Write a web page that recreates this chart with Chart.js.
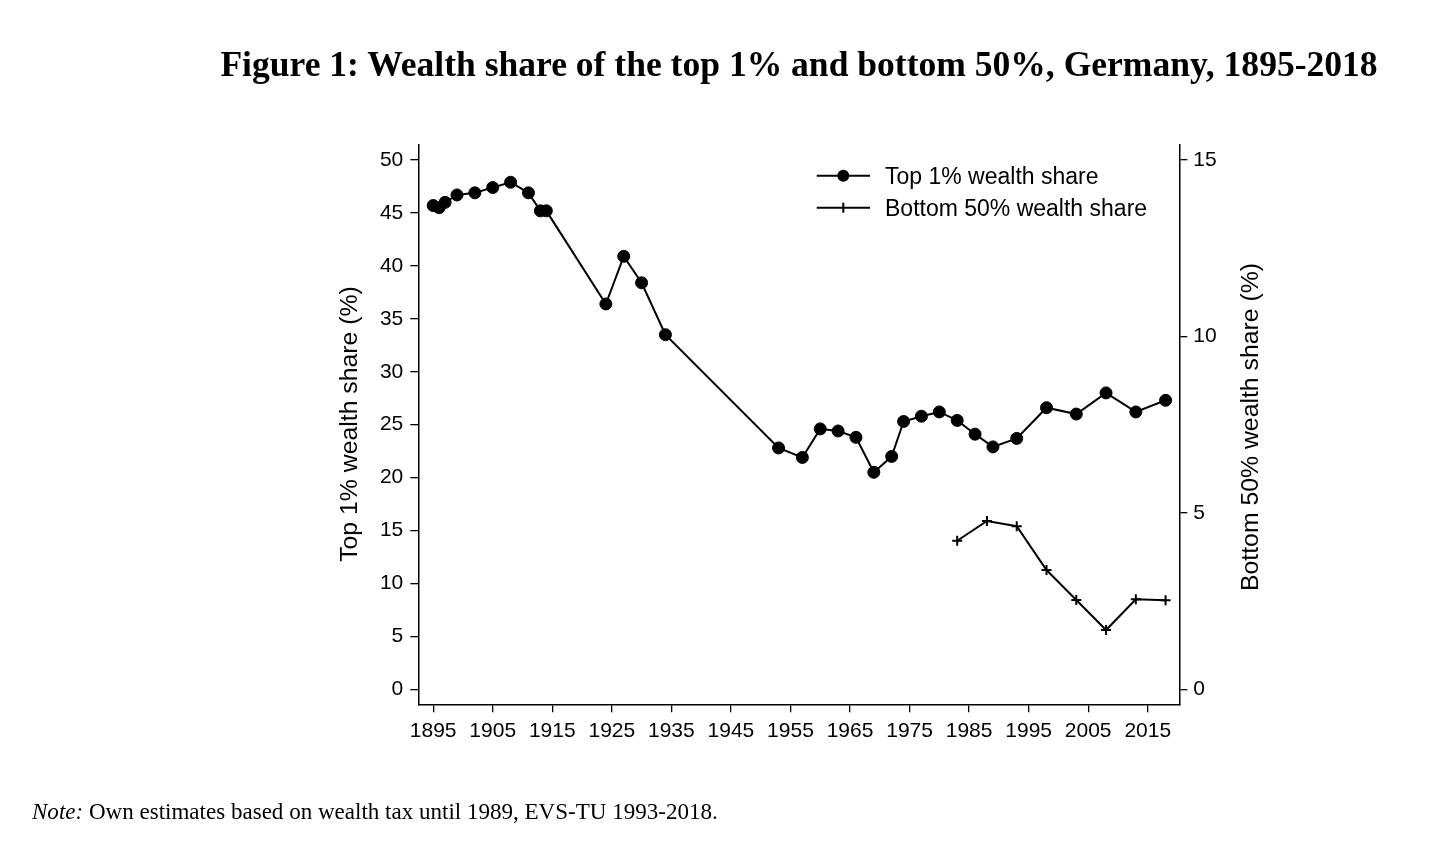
<!DOCTYPE html>
<html>
<head>
<meta charset="utf-8">
<script src="https://cdn.jsdelivr.net/npm/chart.js@4.4.1/dist/chart.umd.min.js"></script>
<style>
  html, body { margin: 0; padding: 0; background: #fff; }
  body { width: 1456px; height: 857px; position: relative; overflow: hidden;
         font-family: "Liberation Sans", Arial, sans-serif; color: #000; }
  #chart { position: absolute; left: 0; top: 0; }
  .txt { position: absolute; white-space: nowrap; }
  #title { font-family: "Liberation Serif", "DejaVu Serif", serif; font-weight: bold;
           font-size: 34px; line-height: 40px; top: 44px; left: 220px; }
  #note { font-family: "Liberation Serif", "DejaVu Serif", serif; font-size: 20px;
          line-height: 24px; left: 32px; top: 799px; }
  .axtitle { font-size: 24.8px; line-height: 30px; width: 400px; text-align: center;
             transform: rotate(-90deg); }
  .leg { font-size: 23px; line-height: 28px; left: 885px; }
  #legsvg { position: absolute; left: 810px; top: 160px; }
</style>
</head>
<body>
<canvas id="chart" width="1456" height="857"></canvas>

<div id="title" class="txt">Figure 1: Wealth share of the top 1% and bottom 50%, Germany, 1895-2018</div>
<div class="txt axtitle" style="left:148.5px; top:408.5px">Top 1% wealth share (%)</div>
<div class="txt axtitle" style="left:1050px; top:411.5px">Bottom 50% wealth share (%)</div>

<svg id="legsvg" width="70" height="60">
  <line x1="6.7" y1="15.7" x2="60" y2="15.7" stroke="#000" stroke-width="2"/>
  <circle cx="33.3" cy="15.7" r="6" fill="#000"/>
  <line x1="6.7" y1="47.7" x2="60" y2="47.7" stroke="#000" stroke-width="2"/>
  <line x1="33.3" y1="42.7" x2="33.3" y2="52.7" stroke="#000" stroke-width="2"/>
</svg>
<div class="txt leg" style="top:161.5px">Top 1% wealth share</div>
<div class="txt leg" style="top:193.7px">Bottom 50% wealth share</div>

<div id="note" class="txt"><i>Note:</i> Own estimates based on wealth tax until 1989, EVS-TU 1993-2018.</div>

<script>
// tick labels
const xTicks = [1895, 1905, 1915, 1925, 1935, 1945, 1955, 1965, 1975, 1985, 1995, 2005, 2015];
const leftTicks = [0, 5, 10, 15, 20, 25, 30, 35, 40, 45, 50];
const rightTicks = [0, 5, 10, 15];

// top 1% wealth share (left axis)
const topYears = [1895, 1896, 1897, 1899, 1902, 1905, 1908, 1911, 1913, 1914,
                  1924, 1927, 1930, 1934, 1953, 1957, 1960, 1963, 1966, 1969,
                  1972, 1974, 1977, 1980, 1983, 1986, 1989, 1993, 1998, 2003,
                  2008, 2013, 2018];
const topShare = [45.7, 45.5, 46.0, 46.7, 46.9, 47.4, 47.9, 46.9, 45.2, 45.2,
                  36.4, 40.9, 38.4, 33.5, 22.8, 21.9, 24.6, 24.4, 23.8, 20.5,
                  22.0, 25.3, 25.8, 26.2, 25.4, 24.1, 22.9, 23.7, 26.6, 26.0,
                  28.0, 26.2, 27.3];

// bottom 50% wealth share (right axis)
const bottomYears = [1983, 1988, 1993, 1998, 2003, 2008, 2013, 2018];
const bottomShare = [4.21, 4.77, 4.62, 3.38, 2.53, 1.68, 2.55, 2.52];

// plot frame in page pixels
const areaLeft = 418.3, areaRight = 1179.3, areaTop = 145, areaBottom = 704.3;
const W = 1456, H = 857;

const tickFont = { family: '"Liberation Sans", Arial, sans-serif', size: 21 };

function axisStyle() {
    return {
        grid: { drawOnChartArea: false, drawTicks: true, tickLength: 8, color: '#000', lineWidth: 1.3 },
        border: { display: true, color: '#000', width: 1.5 }
    };
}

// fit serif texts to the width they have in the figure
function fitWidth(el, target) {
    const size = parseFloat(getComputedStyle(el).fontSize);
    const w = el.getBoundingClientRect().width;
    el.style.fontSize = (size * target / w) + 'px';
}
const titleEl = document.getElementById('title');
fitWidth(titleEl, 1158);
titleEl.style.left = (799 - titleEl.getBoundingClientRect().width / 2) + 'px';
fitWidth(document.getElementById('note'), 686);

const ctx = document.getElementById('chart').getContext('2d');
new Chart(ctx, {
    type: 'line',
    data: {
        datasets: [
            {
                label: 'Top 1% wealth share',
                data: topYears.map((yr, i) => ({ x: yr, y: topShare[i] })),
                yAxisID: 'y',
                borderColor: '#000',
                backgroundColor: '#000',
                borderWidth: 2,
                tension: 0,
                pointStyle: 'circle',
                pointRadius: 6,
                pointBorderWidth: 1,
                pointBackgroundColor: '#000',
                pointBorderColor: '#000',
                clip: false
            },
            {
                label: 'Bottom 50% wealth share',
                data: bottomYears.map((yr, i) => ({ x: yr, y: bottomShare[i] })),
                yAxisID: 'y1',
                borderColor: '#000',
                backgroundColor: '#000',
                borderWidth: 2,
                tension: 0,
                pointStyle: 'cross',
                pointRadius: 5,
                pointBorderWidth: 2,
                pointBorderColor: '#000',
                clip: false
            }
        ]
    },
    options: {
        responsive: false,
        animation: false,
        layout: { padding: { left: 0, right: 0, top: areaTop, bottom: 0 } },
        plugins: {
            legend: { display: false },
            tooltip: { enabled: false }
        },
        scales: {
            x: {
                type: 'linear',
                position: 'bottom',
                min: 1892.5,
                max: 2020.3,
                afterBuildTicks: s => { s.ticks = xTicks.map(v => ({ value: v })); },
                afterFit: s => { s.height = H - areaBottom; },
                ...axisStyle(),
                ticks: { color: '#000', font: tickFont, padding: 6, maxRotation: 0, autoSkip: false,
                         callback: v => String(v) }
            },
            y: {
                type: 'linear',
                position: 'left',
                min: -1.42,
                max: 51.42,
                afterBuildTicks: s => { s.ticks = leftTicks.map(v => ({ value: v })); },
                afterFit: s => { s.width = areaLeft; },
                ...axisStyle(),
                ticks: { color: '#000', font: tickFont, padding: 7, autoSkip: false,
                         callback: v => String(v) }
            },
            y1: {
                type: 'linear',
                position: 'right',
                min: -0.426,
                max: 15.426,
                afterBuildTicks: s => { s.ticks = rightTicks.map(v => ({ value: v })); },
                afterFit: s => { s.width = W - areaRight; },
                ...axisStyle(),
                ticks: { color: '#000', font: tickFont, padding: 6, autoSkip: false,
                         callback: v => String(v) }
            }
        }
    }
});
</script>
</body>
</html>
